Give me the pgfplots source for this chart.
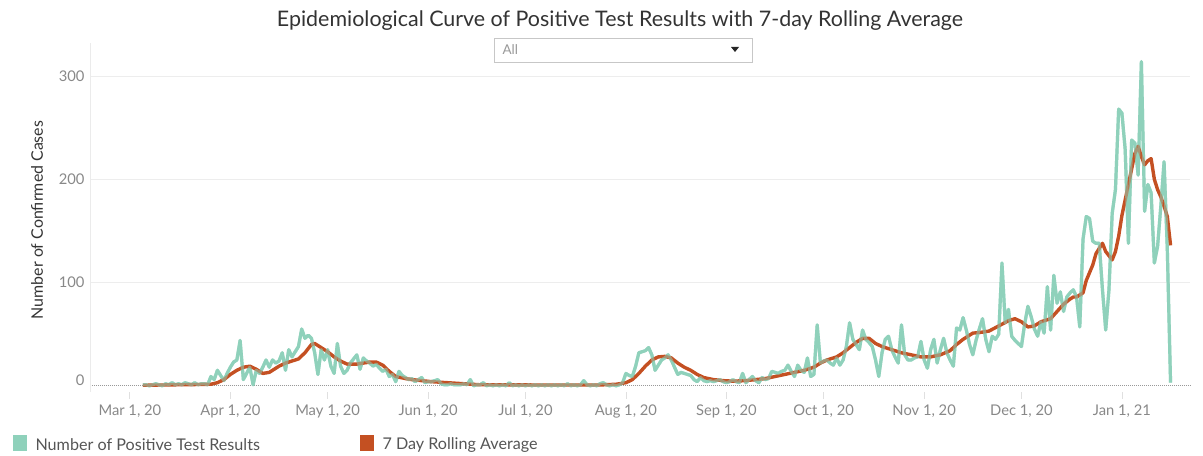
\documentclass[border=0pt]{standalone}
\usepackage{pgfplots}
\pgfplotsset{compat=1.18}
\usepackage{pgfplotstable}
\usepackage{fontspec}
\setmainfont{Lato}
\definecolor{cgreen}{RGB}{143,209,187}
\definecolor{corange}{RGB}{196,80,34}
\definecolor{ctick}{RGB}{136,136,136}
\definecolor{ctext}{RGB}{85,85,85}

\pgfplotstableread{
d v
4 1
5 1
6 0
7 1
8 2
9 1
10 0
11 2
12 1
13 3
14 1
15 2
16 1
17 3
18 2
19 1
20 3
21 1
22 2
23 2
24 1
25 9
26 6
27 15
28 10
29 5
30 12
31 18
32 23
33 25
34 44
35 6
36 12
37 18
38 1
39 15
40 12
41 18
42 25
43 18
44 25
45 22
46 24
47 32
48 15
49 35
50 28
51 33
52 38
53 55
54 46
55 49
56 46
57 32
58 11
59 35
60 25
61 35
62 19
63 12
64 41
65 19
66 12
67 15
68 22
69 26
70 30
71 16
72 27
73 24
74 22
75 19
76 21
77 17
78 14
79 16
80 9
81 11
82 4
83 14
84 10
85 8
86 6
87 7
88 4
89 6
90 8
91 3
92 4
93 4
94 5
95 6
96 2
97 1
98 1
99 2
100 1
101 1
102 1
103 2
104 1
105 6
106 0
107 1
108 1
109 3
110 0
111 1
112 0
113 1
114 0
115 1
116 0
117 3
118 0
119 1
120 0
121 1
122 0
123 1
124 0
125 1
126 0
127 1
128 0
129 1
130 0
131 1
132 0
133 1
134 0
135 2
136 0
137 1
138 0
139 1
140 5
141 1
142 0
143 1
144 0
145 2
146 3
147 1
148 0
149 1
150 0
151 1
152 3
153 12
154 10
155 9
156 19
157 32
158 33
159 34
160 37
161 30
162 15
163 20
164 25
165 27
166 30
167 25
168 18
169 11
170 13
171 12
172 11
173 10
174 6
175 4
176 8
177 5
178 4
179 5
180 4
181 5
182 6
183 4
184 3
185 4
186 6
187 4
188 3
189 12
190 3
191 6
192 9
193 5
194 3
195 8
196 6
197 7
198 14
199 13
200 12
201 14
202 15
203 20
204 14
205 9
206 20
207 15
208 13
209 27
210 9
211 11
212 59
213 22
214 24
215 25
216 22
217 20
218 27
219 20
220 25
221 38
222 61
223 45
224 40
225 35
226 54
227 45
228 42
229 38
230 25
231 9
232 32
233 45
234 48
235 35
236 28
237 22
238 59
239 30
240 25
241 25
242 27
243 28
244 43
245 25
246 17
247 35
248 45
249 22
250 35
251 46
252 32
253 25
254 19
255 56
256 54
257 66
258 54
259 40
260 30
261 44
262 55
263 65
264 45
265 33
266 48
267 45
268 50
269 119
270 61
271 74
272 48
273 44
274 41
275 38
276 60
277 77
278 67
279 55
280 48
281 62
282 51
283 96
284 54
285 107
286 80
287 91
288 72
289 86
290 90
291 93
292 86
293 57
294 142
295 164
296 162
297 140
298 138
299 138
300 93
301 54
302 93
303 167
304 190
305 268
306 264
307 229
308 138
309 238
310 235
311 204
312 314
313 169
314 195
315 187
316 119
317 135
318 174
319 217
320 132
321 3
}\greentable

\pgfplotstableread{
d v
4 0.5
10 0.8
15 1
20 1.2
25 1.5
27 3
29 6
31 11
33 15
35 18
37 19
39 16
41 12
43 13
44 15
46 19
48 22
50 24
52 26
54 32
56 40
57 41
59 37
61 33
63 28
65 24
67 21
70 21
72 22
74 23
76 23
78 20
80 14
82 9
85 7
87 6
90 5
93 4
98 3
103 2
108 1
115 1
125 0.8
135 0.8
145 0.8
150 1.5
153 3
155 6
157 12
159 19
161 25
163 28
165 28.5
167 27
169 22
171 18
173 15
175 11
177 8
180 6
183 5
186 4.5
190 5
193 6
196 7
199 9
202 11
205 13
208 15
211 18
213 22
215 25
218 28
220 32
222 37
224 42
226 46
228 46
230 41
232 38
235 35
238 32
241 30
244 28
247 28
250 30
253 34
255 40
257 45
260 51
263 52
265 53
268 58
271 63
273 65
275 62
277 57
279 58
281 62
284 65
286 72
288 79
290 84
291 86
292 86
294 90
295 102
297 117
298 128
300 138
301 130
303 122
304 130
305 145
306 165
307 180
308 195
309 210
310 225
311 232
312 222
313 214
314 218
315 220
316 200
317 190
318 183
319 174
320 164
321 136
}\orangetable

\begin{document}
\begin{tikzpicture}[x=1bp,y=1bp]
\path (0,0) rectangle (1203,455);
% title
\node[text=black!80, font=\fontsize{21.5}{24}\selectfont] at (620,434) {Epidemiological Curve of Positive Test Results with 7-day Rolling Average};
% dropdown
\draw[draw=black!22, fill=white, line width=0.8bp] (494,393) rectangle (752,417);
\node[anchor=west, text=black!40, font=\fontsize{13.5}{15}\selectfont] at (499,405) {All};
\fill[black!85] (731,408) -- (739,408) -- (735,403) -- cycle;
\begin{axis}[
  at={(90bp,63bp)}, anchor=south west,
  scale only axis, width=1100bp, height=349bp,
  xmin=-12.3, xmax=327, ymin=-6, ymax=332,
  axis line style={draw=none},
  xtick={0,31,61,92,122,153,184,214,245,275,306},
  xticklabels={{Mar 1, 20},{Apr 1, 20},{May 1, 20},{Jun 1, 20},{Jul 1, 20},{Aug 1, 20},{Sep 1, 20},{Oct 1, 20},{Nov 1, 20},{Dec 1, 20},{Jan 1, 21}},
  xtick pos=bottom, ytick pos=left,
  xtick align=outside,
  major tick length=7bp,
  xtick style={draw=black!12, line width=0.8bp},
  ytick style={draw=none},
  ytick={100,200,300},
  extra y ticks={0}, extra y tick labels={0},
  extra y tick style={grid style={densely dotted, draw=black!40, line width=0.8bp}, yticklabel style={yshift=6bp}},
  ymajorgrids,
  grid style={draw=black!7, line width=1bp},
  tick label style={text=ctick, font=\fontsize{14.8}{16}\selectfont},
  /pgf/number format/assume math mode=true,
  xticklabel style={yshift=-2bp},
  yticklabel style={xshift=-2bp},
  clip=false,
]
\addplot[draw=cgreen, line width=3.2bp, line join=round] table[x=d,y=v] {\greentable};
\addplot[draw=corange, line width=3.4bp, line join=round] table[x=d,y=v] {\orangetable};
\addplot[draw=cgreen, line width=3.2bp, line join=round, opacity=0.55] table[x=d,y=v] {\greentable};
\end{axis}
\draw[draw=black!8, line width=0.8bp] (90,63) -- (90,412);
% y label
\node[rotate=90, text=black!80, font=\fontsize{16}{18}\selectfont] at (37,235) {Number of Confirmed Cases};
% legend
\fill[cgreen] (13,4) rectangle (27,20);
\node[anchor=west, text=ctext, font=\fontsize{16.2}{18}\selectfont] at (32,10) {Number of Positive Test Results};
\fill[corange] (360,4) rectangle (374,20);
\node[anchor=west, text=ctext, font=\fontsize{16.2}{18}\selectfont] at (379,10) {7 Day Rolling Average};
\end{tikzpicture}
\end{document}
